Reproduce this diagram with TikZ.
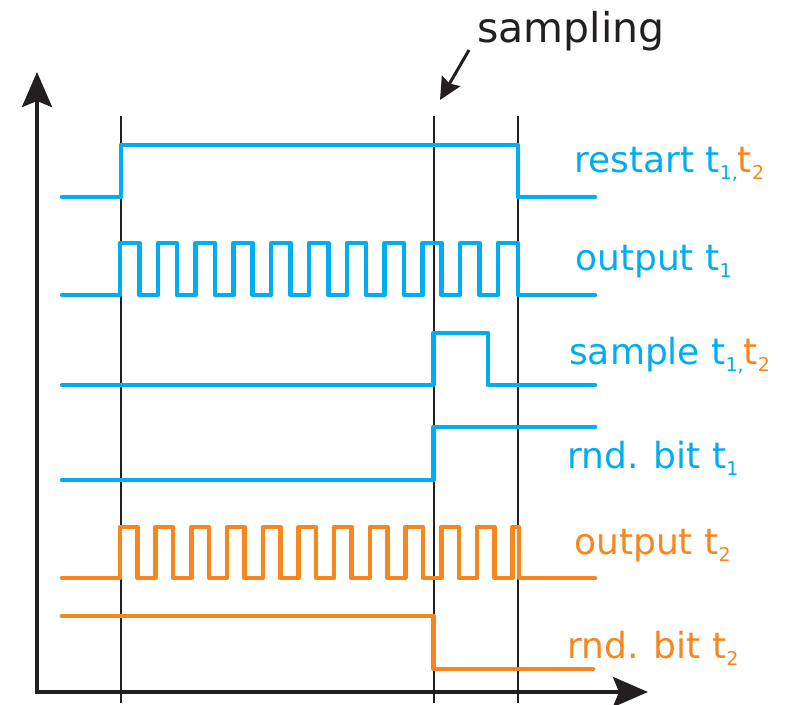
\documentclass[tikz,border=0pt]{standalone}
\usepackage{fontspec}
\setmainfont{DejaVu Sans}
\usetikzlibrary{arrows.meta}
\definecolor{cblue}{RGB}{0,174,239}
\definecolor{corange}{RGB}{247,134,31}
\definecolor{cblack}{RGB}{35,31,32}
\newcommand\subs[1]{\raisebox{-7pt}{\fontsize{19}{20}\selectfont #1}}
\tikzset{
  wave/.style={line width=4.5pt, line cap=round, line join=round},
  bluewave/.style={wave, draw=cblue},
  orangewave/.style={wave, draw=corange},
  marker/.style={draw=cblack, line width=2pt},
  axisline/.style={draw=cblack, line width=4pt, line join=miter,
    arrows={Stealth[length=35pt,width=30pt,inset=6pt]-Stealth[length=35pt,width=30pt,inset=6pt]}},
  lbl/.style={anchor=base west, inner sep=0pt, font=\fontsize{36}{40}\selectfont},
}
\begin{document}
\begin{tikzpicture}[x=1pt,y=-1pt]
\useasboundingbox (0,0) rectangle (789,704);

% axes
\coordinate (ytip) at (37,72);
\coordinate (origin) at (37,692);
\coordinate (xtip) at (648,692);
\draw[axisline] (ytip) -- (origin) -- (xtip);

% vertical markers
\draw[marker] (121,116) -- (121,703);
\draw[marker] (433.5,116) -- (433.5,703);
\draw[marker] (518,116) -- (518,703);

% restart
\draw[bluewave] (62,197) -- (121,197) -- (121,145) -- (518,145) -- (518,197) -- (595,197);

% output t1
\draw[bluewave] (62,295) -- (120,295)
  foreach \k in {0,...,9} { -- ({120+37.8*\k},295) -- ({120+37.8*\k},243) -- ({139.3+37.8*\k},243) -- ({139.3+37.8*\k},295) }
  -- (498,295) -- (498,243) -- (518,243) -- (518,295) -- (595,295);

% sample
\draw[bluewave] (62,385) -- (433.5,385) -- (433.5,333) -- (488,333) -- (488,385) -- (595,385);

% rnd bit t1
\draw[bluewave] (62,480) -- (433.5,480) -- (433.5,427) -- (595,427);

% output t2
\draw[orangewave] (62,578) -- (120,578)
  foreach \k in {0,...,10} { -- ({120+35.7*\k},578) -- ({120+35.7*\k},527) -- ({137.5+35.7*\k},527) -- ({137.5+35.7*\k},578) }
  -- (512.7,578) -- (512.7,527) -- (519,527) -- (519,578) -- (595,578);

% rnd bit t2
\draw[orangewave] (62,616) -- (433.5,616) -- (433.5,669) -- (593,669);

% labels
\node[lbl, text=cblue] (lrestart) at (574,172) {restart t\subs{1,}\textcolor{corange}{t\subs{2}}};
\node[lbl, text=cblue] (lout1) at (575,270) {output t\subs{1}};
\node[lbl, text=cblue] (lsample) at (569,364) {sample t\subs{1,}\textcolor{corange}{t\subs{2}}};
\node[lbl, text=cblue] (lrnd1) at (567,468) {rnd. bit t\subs{1}};
\node[lbl, text=corange] (lout2) at (574,554) {output t\subs{2}};
\node[lbl, text=corange] (lrnd2) at (567,658) {rnd. bit t\subs{2}};

% sampling
\node[anchor=base west, inner sep=0pt, text=cblack, font=\fontsize{41}{45}\selectfont] (samp) at (477,42) {sampling};
\coordinate (sarrowstart) at (469,50);
\coordinate (sarrowtip) at (440,100);
\draw[draw=cblack, line width=3pt, -{Stealth[length=22pt,width=21pt,inset=3pt]}] (sarrowstart) -- (sarrowtip);
\end{tikzpicture}
\end{document}
